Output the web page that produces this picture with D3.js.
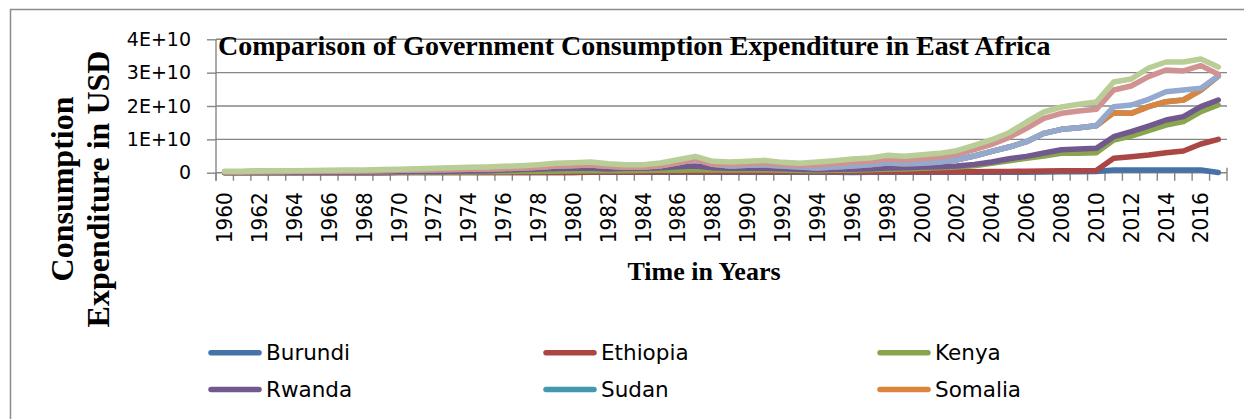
<!DOCTYPE html>
<html>
<head>
<meta charset="utf-8">
<script src="https://cdn.jsdelivr.net/npm/d3@7"></script>
<style>
  html, body { margin: 0; padding: 0; background: #ffffff; }
  svg { display: block; }
</style>
</head>
<body>
<svg id="chart" width="1244" height="419"></svg>
<script>
// Government final consumption expenditure, billions of current USD (stacked in the chart)
const years = [1960,1961,1962,1963,1964,1965,1966,1967,1968,1969,
               1970,1971,1972,1973,1974,1975,1976,1977,1978,1979,
               1980,1981,1982,1983,1984,1985,1986,1987,1988,1989,
               1990,1991,1992,1993,1994,1995,1996,1997,1998,1999,
               2000,2001,2002,2003,2004,2005,2006,2007,2008,2009,
               2010,2011,2012,2013,2014,2015,2016,2017];

const burundi = [0.01,0.01,0.01,0.01,0.02,0.02,0.02,0.02,0.02,0.02,
                 0.03,0.03,0.03,0.04,0.04,0.05,0.05,0.06,0.07,0.08,
                 0.09,0.10,0.10,0.10,0.10,0.11,0.12,0.12,0.11,0.11,
                 0.12,0.12,0.12,0.11,0.10,0.10,0.09,0.10,0.10,0.10,
                 0.10,0.10,0.10,0.10,0.12,0.14,0.16,0.20,0.25,0.30,
                 0.35,0.80,0.80,0.80,0.80,0.80,0.80,0.05];

const ethiopia = [0,0,0,0,0,0,0,0,0,0,
                  0,0,0,0,0,0,0,0,0,0,
                  0,0.10,0.12,0.12,0.13,0.14,0.15,0.16,0.17,0.17,
                  0.18,0.18,0.18,0.17,0.17,0.18,0.19,0.20,0.20,0.20,
                  0.20,0.20,0.20,0.22,0.23,0.25,0.27,0.28,0.30,0.30,
                  0.30,3.50,4.00,4.50,5.20,5.70,7.80,9.95];

const kenya = [0.07,0.07,0.08,0.08,0.09,0.09,0.10,0.10,0.11,0.12,
               0.13,0.14,0.15,0.17,0.20,0.22,0.25,0.28,0.30,0.35,
               0.40,0.40,0.35,0.40,0.42,0.45,0.50,0.55,0.50,0.50,
               0.50,0.50,0.45,0.40,0.33,0.42,0.42,0.55,0.70,0.80,
               1.00,1.15,1.40,1.78,2.45,3.21,3.87,4.52,5.25,5.20,
               5.35,5.50,6.20,7.30,8.30,8.80,9.70,10.30];

const rwanda = [0.05,0.05,0.06,0.06,0.07,0.08,0.09,0.10,0.11,0.13,
                0.15,0.17,0.20,0.22,0.25,0.33,0.50,0.61,0.73,0.82,
                0.81,0.80,0.53,0.68,0.65,0.80,1.03,1.17,0.72,0.52,
                0.50,0.50,0.45,0.32,0.30,0.30,0.30,0.35,0.40,0.40,
                0.40,0.35,0.30,0.40,0.40,0.60,0.60,0.90,1.10,1.30,
                1.30,1.00,1.30,1.40,1.50,1.50,1.50,1.50];

const sudan = [0.15,0.18,0.20,0.22,0.24,0.26,0.28,0.32,0.34,0.37,
               0.40,0.45,0.48,0.52,0.55,0.50,0.45,0.45,0.55,0.75,
               0.85,0.90,0.80,0.40,0.40,0.60,1.20,2.00,1.00,0.70,
               0.90,1.00,0.80,0.70,0.50,0.70,1.00,1.20,1.50,1.20,
               1.10,1.40,1.90,2.50,3.20,3.50,4.40,5.90,6.10,6.40,
               6.80,7.20,5.50,5.80,5.50,5.00,5.00,7.20];

const somalia = [0,0,0,0,0,0,0,0,0,0,
                 0,0,0,0,0,0,0,0,0,0,
                 0,0,0,0,0,0,0,0,0,0,
                 0,0,0,0,0,0,0,0,0,0,
                 0,0,0,0,0,0,0,0,0,0,
                 0,0,0,0,0,0,0,0];

const southSudan = [0,0,0,0,0,0,0,0,0,0,
                    0,0,0,0,0,0,0,0,0,0,
                    0,0,0,0,0,0,0,0,0,0,
                    0,0,0,0,0,0,0,0,0,0,
                    0,0,0,0,0,0,0,0,0,0,
                    0,1.80,2.50,2.20,3.00,3.00,0.50,0];

const tanzania = [0,0,0,0,0,0,0,0,0,0,
                  0,0,0,0,0,0,0,0,0,0,
                  0,0,0,0,0,0,0,0,0,0.50,
                  0.50,0.60,0.50,0.50,0.90,1.00,1.10,1.00,1.20,1.10,
                  1.40,1.40,1.60,1.90,2.10,2.90,4.00,4.50,4.80,5.00,
                  4.90,5.00,5.70,6.80,6.50,5.70,6.80,0.50];

const uganda = [0.12,0.14,0.15,0.18,0.18,0.20,0.21,0.26,0.26,0.30,
                0.34,0.41,0.44,0.50,0.56,0.60,0.65,0.70,0.75,0.80,
                0.85,0.90,0.80,0.70,0.70,0.80,0.90,0.90,0.90,0.70,
                0.70,0.80,0.60,0.60,0.90,0.90,1.00,1.00,1.10,1.10,
                1.20,1.20,1.10,1.30,1.40,1.40,1.90,1.90,1.90,2.00,
                2.20,2.40,2.10,2.60,2.40,2.70,2.00,2.20];

const seriesNames  = ["Burundi","Ethiopia","Kenya","Rwanda","Sudan","Somalia","South Sudan","Tanzania","Uganda"];
const seriesValues = [burundi, ethiopia, kenya, rwanda, sudan, somalia, southSudan, tanzania, uganda];
const seriesColors = ["#4572A7","#AA4643","#89A54E","#71588F","#4198AF","#DB843D","#93A9CF","#D19392","#B9CD96"];
// legend entries shown in the two visible legend rows
const legendNames = ["Burundi","Ethiopia","Kenya","Rwanda","Sudan","Somalia"];

const yTickValues = [0, 1e10, 2e10, 3e10, 4e10];
const yTickLabels = ["0", "1E+10", "2E+10", "3E+10", "4E+10"];
const xLabelYears = years.filter((y, i) => i % 2 === 0);

const titleText  = "Comparison of Government Consumption Expenditure in East Africa";
const xTitleText = "Time in Years";
const yTitleLines = ["Consumption", "Expenditure in USD"];

// ---- layout ----
const plot = { left: 216, right: 1227, top: 39.3, bottom: 172.7 };
const axisGrey = "#868686";

const svg = d3.select("#chart");

// outer chart frame (continues past the bottom edge of the page)
svg.append("rect")
  .attr("x", 10.5).attr("y", 9.5)
  .attr("width", 1260).attr("height", 600)
  .attr("fill", "none").attr("stroke", "#8c8c8c").attr("stroke-width", 1.5);

// rows of stacked values
const rows = years.map((yr, i) => {
  const r = { year: yr };
  seriesNames.forEach((n, k) => { r[n] = seriesValues[k][i] * 1e9; });
  return r;
});
const stacked = d3.stack().keys(seriesNames).order(d3.stackOrderNone).offset(d3.stackOffsetNone)(rows);

const x = d3.scaleBand().domain(years).range([plot.left, plot.right]).paddingInner(0).paddingOuter(0);
const y = d3.scaleLinear().domain([0, 4e10]).range([plot.bottom, plot.top]);
const cx = yr => x(yr) + x.bandwidth() / 2;

// horizontal gridlines
svg.append("g")
  .selectAll("line")
  .data(yTickValues.filter(v => v > 0))
  .join("line")
  .attr("x1", plot.left).attr("x2", plot.right)
  .attr("y1", d => y(d)).attr("y2", d => y(d))
  .attr("stroke", axisGrey).attr("stroke-width", 1.4);

// y axis
const yAxis = svg.append("g")
  .attr("transform", `translate(${plot.left},0)`)
  .call(d3.axisLeft(y).tickValues(yTickValues)
        .tickFormat((d, i) => yTickLabels[i]).tickSize(9).tickPadding(16));
yAxis.select(".domain").attr("stroke", axisGrey).attr("stroke-width", 1.4)
  .attr("d", `M0,${plot.top}V${plot.bottom + 8}`);
yAxis.selectAll(".tick line").attr("stroke", axisGrey).attr("stroke-width", 1.4);
yAxis.selectAll(".tick text")
  .attr("font-family", "DejaVu Sans").attr("font-size", 19).attr("fill", "#000");

// x axis: boundary ticks between categories
const xAxisG = svg.append("g");
xAxisG.append("line")
  .attr("x1", plot.left).attr("x2", plot.right)
  .attr("y1", plot.bottom).attr("y2", plot.bottom)
  .attr("stroke", axisGrey).attr("stroke-width", 1.4);
const boundaries = years.map(yr => x(yr)).concat([x(years[years.length - 1]) + x.bandwidth()]);
xAxisG.selectAll("line.bt")
  .data(boundaries)
  .join("line").attr("class", "bt")
  .attr("x1", d => d).attr("x2", d => d)
  .attr("y1", plot.bottom).attr("y2", plot.bottom + 8)
  .attr("stroke", axisGrey).attr("stroke-width", 1.4);
xAxisG.append("line")
  .attr("x1", plot.right).attr("x2", plot.right)
  .attr("y1", plot.bottom - 5).attr("y2", plot.bottom)
  .attr("stroke", axisGrey).attr("stroke-width", 1.4);

// x labels, rotated
const xLab = svg.append("g")
  .attr("transform", `translate(0,${plot.bottom})`)
  .call(d3.axisBottom(x).tickValues(xLabelYears).tickSize(0));
xLab.select(".domain").remove();
xLab.selectAll(".tick text")
  .attr("font-family", "DejaVu Sans").attr("font-size", 21).attr("fill", "#000")
  .attr("textLength", 51).attr("lengthAdjust", "spacingAndGlyphs")
  .attr("transform", "rotate(-90)")
  .attr("text-anchor", "end")
  .attr("x", -19.5).attr("y", 0).attr("dy", "0.36em");

// stacked lines
const line = d3.line()
  .x(d => cx(d.data.year))
  .y(d => y(d[1]));
svg.append("g")
  .selectAll("path")
  .data(stacked)
  .join("path")
  .attr("d", line)
  .attr("fill", "none")
  .attr("stroke", (d, i) => seriesColors[i])
  .attr("stroke-width", 5.5)
  .attr("stroke-linejoin", "round")
  .attr("stroke-linecap", "round");

// title
svg.append("text")
  .attr("x", 218).attr("y", 55)
  .attr("font-family", "Liberation Serif").attr("font-weight", "bold")
  .attr("font-size", 28).attr("fill", "#000")
  .text(titleText);

// axis titles
svg.append("text")
  .attr("x", 704).attr("y", 280)
  .attr("text-anchor", "middle")
  .attr("font-family", "Liberation Serif").attr("font-weight", "bold")
  .attr("font-size", 26).attr("fill", "#000")
  .text(xTitleText);

const yTitle = svg.append("g").attr("transform", "translate(0,189) rotate(-90)");
yTitle.selectAll("text")
  .data(yTitleLines)
  .join("text")
  .attr("x", 0).attr("y", (d, i) => 73 + i * 36)
  .attr("text-anchor", "middle")
  .attr("font-family", "Liberation Serif").attr("font-weight", "bold")
  .attr("font-size", 32).attr("fill", "#000")
  .text(d => d);

// legend, three columns
const legendCols = [208, 543, 877];
const legendRows = [352.7, 389.5];
const legend = svg.append("g")
  .selectAll("g")
  .data(legendNames)
  .join("g")
  .attr("transform", (d, i) => `translate(${legendCols[i % 3]},${legendRows[Math.floor(i / 3)]})`);
legend.append("line")
  .attr("x1", 3).attr("x2", 51).attr("y1", 0).attr("y2", 0)
  .attr("stroke", d => seriesColors[seriesNames.indexOf(d)])
  .attr("stroke-width", 5.5).attr("stroke-linecap", "round");
legend.append("text")
  .attr("x", 58).attr("y", 0).attr("dy", "0.36em")
  .attr("font-family", "DejaVu Sans").attr("font-size", 21.5).attr("fill", "#000")
  .text(d => d);
</script>
</body>
</html>
